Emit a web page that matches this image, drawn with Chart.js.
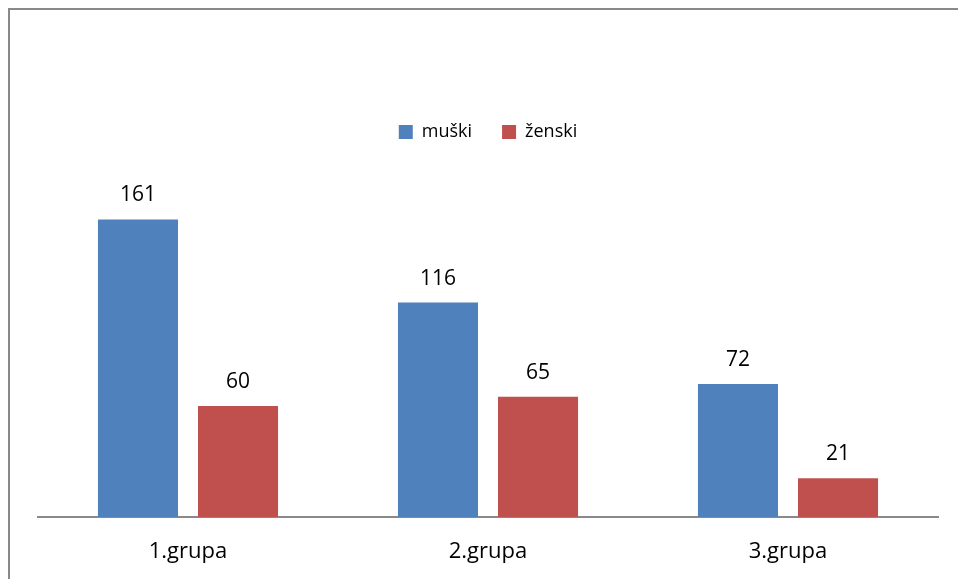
<!DOCTYPE html>
<html>
<head>
<meta charset="utf-8">
<script src="https://cdn.jsdelivr.net/npm/chart.js@4"></script>
<style>
    html, body { margin: 0; padding: 0; background: #fff; overflow: hidden; }
    #wrap { position: relative; width: 958px; height: 579px; }
    #frame {
        position: absolute; left: 8px; top: 8px; width: 1000px; height: 700px;
        border: 2px solid #898989; box-sizing: border-box;
    }
    canvas { position: absolute; left: 0; top: 0; }
</style>
</head>
<body>
<div id="wrap">
    <div id="frame"></div>
    <canvas id="barChart" width="958" height="579"></canvas>
</div>
<script>
// Chart data
const groups = ["1.grupa", "2.grupa", "3.grupa"];
const maleCounts = [161, 116, 72];
const femaleCounts = [60, 65, 21];
const seriesNames = ["muški", "ženski"];

const FONT = "'Open Sans', 'Noto Sans', sans-serif";

// Value labels above the bars
const valueLabels = {
    id: "valueLabels",
    afterDatasetsDraw(chart) {
        const { ctx } = chart;
        ctx.save();
        ctx.font = "21px " + FONT;
        ctx.fillStyle = "#000";
        ctx.textAlign = "center";
        ctx.textBaseline = "middle";
        chart.data.datasets.forEach((ds, i) => {
            chart.getDatasetMeta(i).data.forEach((bar, j) => {
                ctx.fillText(String(ds.data[j]), bar.x, bar.y - 24);
            });
        });
        ctx.restore();
    },
};

const ctx = document.getElementById("barChart").getContext("2d");

new Chart(ctx, {
    type: "bar",
    data: {
        labels: groups,
        datasets: [
            {
                label: seriesNames[0],
                data: maleCounts,
                backgroundColor: "#4f81bd",
                categoryPercentage: 0.667,
                barPercentage: 0.8,
            },
            {
                label: seriesNames[1],
                data: femaleCounts,
                backgroundColor: "#c0504d",
                categoryPercentage: 0.667,
                barPercentage: 0.8,
            },
        ],
    },
    options: {
        responsive: false,
        animation: false,
        layout: { padding: { left: 38, right: 20, top: 93, bottom: 0 } },
        plugins: {
            legend: {
                position: "top",
                labels: {
                    color: "#000",
                    font: { family: FONT, size: 18 },
                    boxWidth: 14,
                    boxHeight: 14,
                    padding: 30,
                },
            },
            tooltip: { enabled: false },
        },
        scales: {
            x: {
                grid: { display: false, drawTicks: false },
                border: { color: "#898989", width: 2 },
                ticks: { color: "#000", font: { family: FONT, size: 22 }, padding: 22 },
                afterFit(scale) {
                    scale.height = 62;
                },
            },
            y: {
                display: false,
                min: 0,
                max: 198,
            },
        },
    },
    plugins: [valueLabels],
});
</script>
</body>
</html>
